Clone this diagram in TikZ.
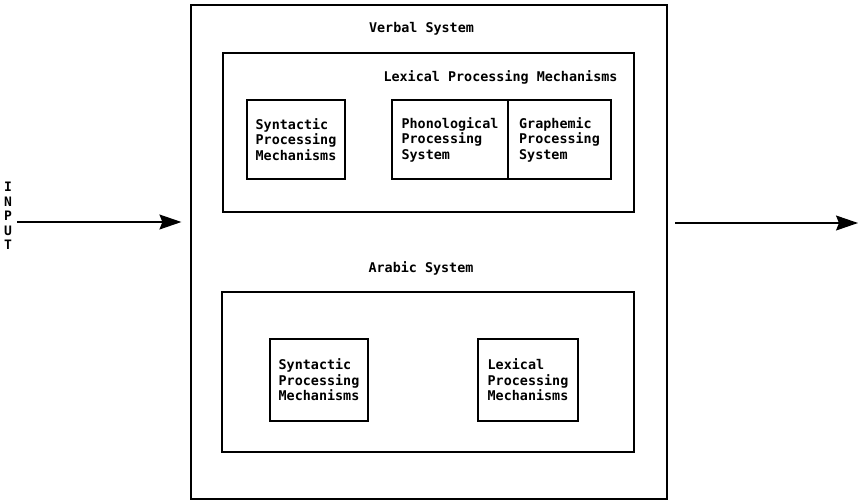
\documentclass[tikz,border=0pt]{standalone}
\usepackage{fontspec}
\setmonofont{DejaVu Sans Mono}
\usepackage{tikz}
\usetikzlibrary{arrows.meta, positioning, calc}

\begin{document}
\begin{tikzpicture}[
    x=1pt, y=-1pt,
    every node/.style={font=\ttfamily\bfseries\fontsize{13.4}{15.5}\selectfont, inner sep=0},
    sysbox/.style={draw, line width=1.2pt, rectangle},
    unit/.style={draw, line width=1.1pt, rectangle, align=left},
    title/.style={anchor=base},
    flow/.style={-{Stealth[length=22pt, width=15pt, inset=3pt]}, line width=1.2pt},
    >=Stealth
]
\useasboundingbox (0,0) rectangle (859,501);

% Verbal system
\node[sysbox, minimum width=476, minimum height=494] (verbal) at (429,252) {};
\node[title] (vtitle) at (421.5,32) {Verbal System};
\node[sysbox, minimum width=411, minimum height=159] (lexical) at (428.5,132.5) {};
\node[title] (ltitle) at (500.5,81) {Lexical Processing Mechanisms};
\node[unit, minimum width=98, minimum height=79] (vsyn) at (296,139.5) {Syntactic\\Processing\\Mechanisms};
\node[unit, minimum width=116, minimum height=79] (phon) at (450,139.5) {Phonological\\Processing\\System};
\node[unit, minimum width=103, minimum height=79] (graph) at (559.5,139.5) {Graphemic\\Processing\\System};

% Arabic system
\node[title] (atitle) at (421,272) {Arabic System};
\node[sysbox, minimum width=412, minimum height=160] (arabic) at (428,372) {};
\node[unit, minimum width=98, minimum height=82] (asyn) at (319,380) {Syntactic\\Processing\\Mechanisms};
\node[unit, minimum width=100, minimum height=82] (alex) at (528,380) {Lexical\\Processing\\Mechanisms};

% Input / output
\node[align=center, font=\ttfamily\bfseries\fontsize{13}{14.5}\selectfont] (inlabel) at (8,216) {I\\N\\P\\U\\T};
\coordinate (ina) at (17,222);
\coordinate (outa) at (675,223);
\coordinate (outb) at (858,223);
\draw[flow, shorten >=9pt] (ina) -- (ina -| verbal.west);
\draw[flow] (outa) -- (outb);
\end{tikzpicture}
\end{document}
